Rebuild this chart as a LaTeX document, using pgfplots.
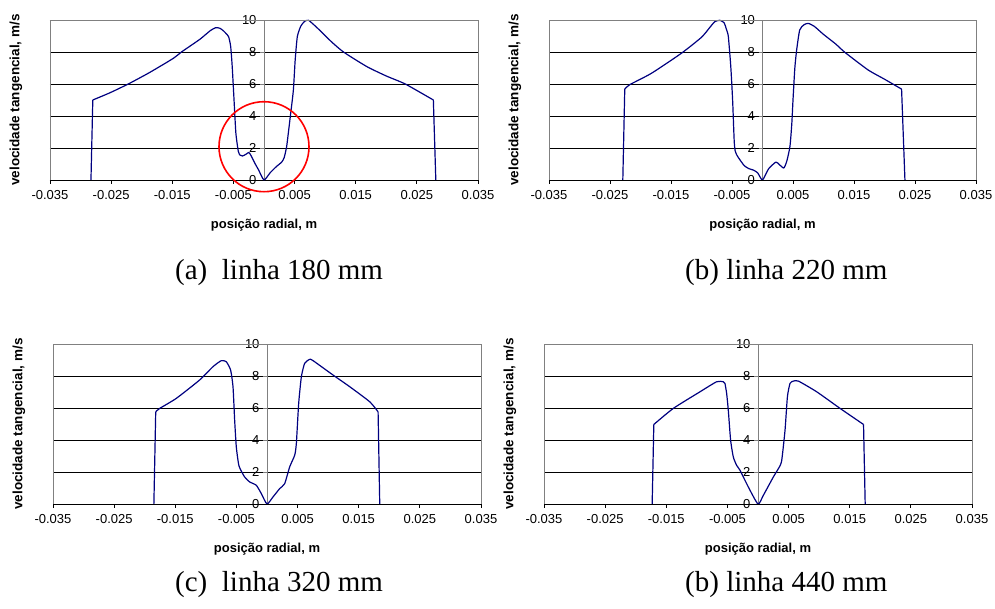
\documentclass[border=0pt]{standalone}
\usepackage{fontspec}
\setmainfont{Liberation Serif}
\setsansfont{Liberation Sans}
\usepackage{pgfplots}
\usepackage{pgfplotstable}
\pgfplotsset{compat=1.18}
\definecolor{curve}{RGB}{0,0,128}
\definecolor{frame}{RGB}{128,128,128}

% velocidade tangencial x posicao radial
\pgfplotstableread{
x y
-0.0283 0
-0.0280 5.0
-0.0252 5.45
-0.0222 6.0
-0.0187 6.72
-0.0148 7.61
-0.0135 8.0
-0.0105 8.79
-0.0088 9.33
-0.0079 9.52
-0.0072 9.48
-0.0066 9.31
-0.0058 8.96
-0.00545 8.34
-0.0052 7.1
-0.0049 5.0
-0.0046 2.93
-0.0042 1.79
-0.0039 1.55
-0.0035 1.50
-0.0029 1.62
-0.0025 1.72
-0.0022 1.58
-0.0015 1.05
-0.0009 0.64
0 0
0.0010 0.45
0.0020 0.83
0.0029 1.12
0.0033 1.4
0.0037 2.08
0.0040 3.0
0.0043 3.96
0.0048 5.6
0.0051 7.5
0.00545 8.96
0.0060 9.6
0.0066 9.9
0.0073 9.98
0.0090 9.4
0.0110 8.65
0.0130 8.0
0.0168 7.09
0.0200 6.5
0.0231 6.0
0.0277 5.0
0.0281 0
}\linhaA

\pgfplotstableread{
x y
-0.0229 0
-0.02258 5.68
-0.0218 5.95
-0.0182 6.67
-0.0133 7.92
-0.0100 8.92
-0.0085 9.6
-0.0078 9.9
-0.0070 9.98
-0.0063 9.83
-0.0059 9.4
-0.0056 8.96
-0.0052 7.09
-0.0049 5.0
-0.00465 2.52
-0.0045 1.85
-0.0042 1.55
-0.0037 1.26
-0.0030 0.9
-0.0023 0.72
-0.0015 0.62
-0.0008 0.45
0 0
0.0010 0.7
0.0022 1.12
0.0028 0.95
0.0035 0.75
0.0040 1.2
0.0045 2.1
0.0048 3.5
0.0050 5.0
0.0053 7.0
0.0056 8.13
0.0061 9.38
0.0068 9.7
0.0075 9.79
0.0085 9.6
0.0100 9.1
0.0120 8.5
0.0135 7.98
0.0173 6.88
0.0200 6.3
0.0228 5.68
0.02335 0
}\linhaB

\pgfplotstableread{
x y
-0.0185 0
-0.0182 5.76
-0.01757 5.97
-0.01484 6.6
-0.01102 7.75
-0.00884 8.58
-0.00747 8.96
-0.00666 8.89
-0.00595 8.37
-0.00556 7.33
-0.00529 5.24
-0.00502 3.57
-0.00458 2.38
-0.00366 1.69
-0.00284 1.38
-0.00175 1.17
-0.00093 0.65
0 0
0.00098 0.44
0.00207 0.96
0.00289 1.27
0.00371 2.32
0.00453 3.05
0.0048 3.78
0.00518 6.28
0.00562 7.95
0.00616 8.79
0.00698 9.04
0.00753 8.96
0.0108 8.06
0.01353 7.33
0.0168 6.39
0.01817 5.76
0.01844 0
}\linhaC

\pgfplotstableread{
x y
-0.01731 0
-0.01704 4.97
-0.01387 5.97
-0.0095 7.01
-0.00677 7.64
-0.00568 7.64
-0.00541 7.54
-0.00513 6.91
-0.00486 5.87
-0.00448 3.99
-0.00404 2.94
-0.0035 2.42
-0.00295 2.11
-0.00158 1.06
0 0
0.00087 0.54
0.00251 1.69
0.0035 2.32
0.00388 2.73
0.00442 4.61
0.00481 6.7
0.00524 7.54
0.00579 7.68
0.00661 7.68
0.00961 7.01
0.01344 5.97
0.01726 4.97
0.01753 0
}\linhaD

\pgfplotsset{
  vt/.style={
    scale only axis, height=160pt, anchor=south west,
    xmin=-0.035, xmax=0.035, ymin=0, ymax=10,
    axis x line=bottom, axis y line=center,
    axis line style={-},
    x axis line style={black, line width=0.8pt},
    y axis line style={frame, line width=0.8pt},
    hide obscured x ticks=false, hide obscured y ticks=false,
    scaled x ticks=false,
    xtick={-0.035,-0.025,-0.015,-0.005,0.005,0.015,0.025,0.035},
    xticklabels={-0.035,-0.025,-0.015,-0.005,0.005,0.015,0.025,0.035},
    ytick={0,2,4,6,8,10},
    yticklabels={0,2,4,6,8,10},
    tick align=outside, major tick length=4pt,
    x tick style={black, line width=0.8pt},
    y tick style={frame, line width=0.8pt},
    ymajorgrids, major grid style={black, line width=0.8pt},
    tick label style={font=\sffamily\fontsize{13}{13}\selectfont},
    every x tick label/.append style={yshift=-3pt},
    xlabel={posição radial, m},
    ylabel={velocidade tangencial, m/s},
    every axis x label/.style={at={([yshift=-45pt]rel axis cs:0.5,0)}, anchor=center,
      font=\sffamily\bfseries\fontsize{13}{13}\selectfont},
    every axis y label/.style={at={([xshift=-34pt]rel axis cs:0,0.5)}, anchor=center, rotate=90,
      font=\sffamily\bfseries\fontsize{13.5}{13.5}\selectfont},
    extra description/.code={
      \draw[frame, line width=0.8pt] (rel axis cs:0,0) -- (rel axis cs:0,1) -- (rel axis cs:1,1) -- (rel axis cs:1,0);
    },
  },
  vline/.style={curve, line width=1.2pt, line join=round},
}

% vertical ends straight, the profile between them smoothed
% #2 = index of the last top point, #3 = index of the last point
\newcommand{\perfil}[3]{%
  \addplot[vline, sharp plot, skip coords between index={2}{1000}] table[x=x, y=y] {#1};
  \addplot[vline, smooth, tension=0.35, skip coords between index={0}{1},
    skip coords between index={#3}{1000}] table[x=x, y=y] {#1};
  \addplot[vline, sharp plot, skip coords between index={0}{#2}] table[x=x, y=y] {#1};
}

\begin{document}
\begin{tikzpicture}
\useasboundingbox (0pt,0pt) rectangle (995pt,609pt);

\begin{axis}[vt, width=428pt, at={(50pt,429pt)}, clip=false]
\perfil{\linhaA}{45}{46}
\draw[red, line width=1.6pt] (axis cs:0,2.08) circle[radius=45pt];
\end{axis}

\begin{axis}[vt, width=427pt, at={(549pt,429pt)}]
\perfil{\linhaB}{42}{43}
\end{axis}

\begin{axis}[vt, width=428pt, at={(53pt,105pt)}]
\perfil{\linhaC}{32}{33}
\end{axis}

\begin{axis}[vt, width=428pt, at={(544pt,105pt)}]
\perfil{\linhaD}{26}{27}
\end{axis}

\begin{scope}[every node/.style={anchor=base west, inner sep=0pt, font=\fontsize{29}{29}\selectfont}]
\node at (175pt,329pt) {(a)\ \ linha 180 mm};
\node at (685pt,329pt) {(b) linha 220 mm};
\node at (175pt,17pt) {(c)\ \ linha 320 mm};
\node at (685pt,17pt) {(b) linha 440 mm};
\end{scope}
\end{tikzpicture}
\end{document}
